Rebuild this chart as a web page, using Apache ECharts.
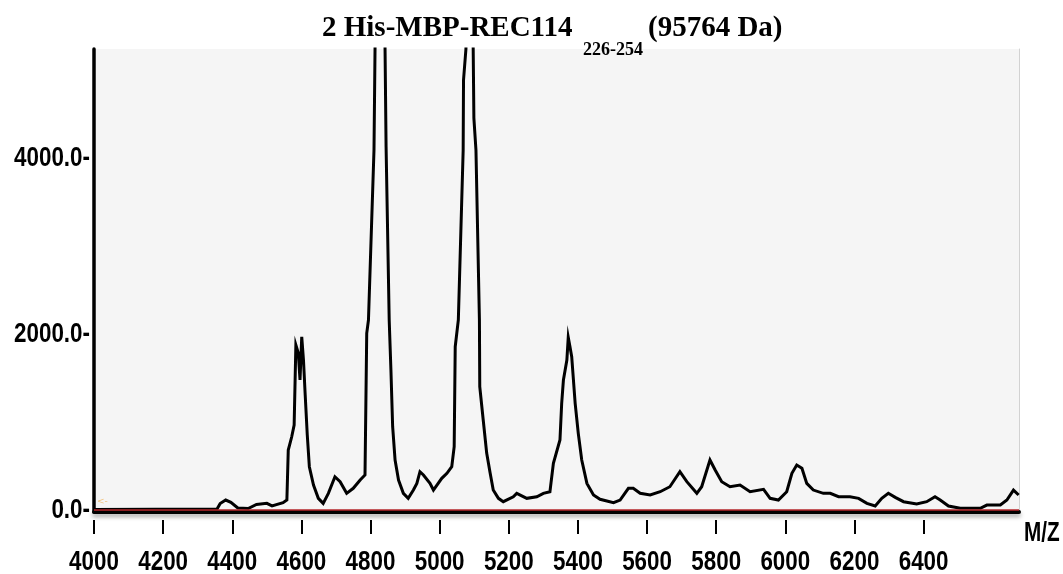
<!DOCTYPE html>
<html>
<head>
<meta charset="utf-8">
<script src="https://cdn.jsdelivr.net/npm/echarts@6/dist/echarts.min.js"></script>
<style>
html,body{margin:0;padding:0;background:#fff;}
#chart{width:1063px;height:574px;}
</style>
</head>
<body>
<div id="chart"></div>
<script>
// m/z positions of the traced spectrum
const mzValues = [
  4000,4356,4365,4381,4396,4416,4446,4470,4500,4515,4547,4558,4562,4572,4579,4584,4591,4596,4601,4606,
  4611,4617,4623,4635,4649,4663,4678,4697,4712,4731,4750,4770,4784,4789,4794,4810,4814,4828,4841,4845,
  4854,4859,4864,4871,4881,4895,4909,4924,4934,4943,4953,4972,4982,5006,5021,5035,5042,5045,5054,5068,
  5069,5076,5079,5088,5095,5097,5099,5105,5115,5116,5126,5136,5146,5155,5170,5184,5213,5223,5252,5281,
  5300,5319,5329,5348,5353,5358,5368,5372,5377,5382,5392,5401,5411,5426,5445,5464,5503,5522,5546,5560,
  5580,5609,5638,5666,5695,5715,5744,5758,5782,5797,5816,5840,5869,5898,5937,5956,5980,6004,6019,6033,
  6038,6048,6062,6081,6110,6130,6154,6187,6212,6236,6260,6279,6298,6318,6342,6380,6409,6433,6448,6472,
  6506,6564,6583,6622,6641,6660,6675
];
// intensities at those positions (the two main peaks run off the top)
const intensityValues = [
  0,6,69,108,82,18,11,58,70,42,77,108,675,826,959,1867,1776,1470,1961,1697,
  1300,846,486,278,127,70,184,372,316,184,241,335,392,2000,2151,4080,5600,6500,5600,4114,
  2151,1584,940,562,335,184,127,221,297,429,392,297,221,354,411,486,713,1848,2151,4080,
  4875,5227,5700,6800,5700,5227,4443,4080,2151,1394,1016,641,414,221,127,89,145,184,127,145,
  184,202,524,789,1205,1470,1697,1954,1848,1734,1205,865,562,297,165,116,77,108,241,241,
  184,165,202,259,429,316,184,259,562,448,316,259,278,202,229,127,108,202,411,505,
  524,468,297,221,184,184,145,145,127,70,40,127,184,138,89,62,89,145,108,40,
  14,14,51,51,108,221,165
];
const xTickValues = [4000,4200,4400,4600,4800,5000,5200,5400,5600,5800,6000,6200,6400];
const yTickValues = [0,2000,4000];
const titleMain = '2 His-MBP-REC114';
const titleSub = '226-254';
const titleTail = '(95764 Da)';
const xAxisName = 'M/Z';

const seriesData = mzValues.map((m, i) => [m, intensityValues[i]]);
const X_MIN = 4000, X_MAX = 6676, Y_MIN = -28, Y_MAX = 5227;
const labelFont = 'bold 28px "Liberation Sans","Arial",sans-serif';
const NARROW = 0.8;
const serif29 = 'bold 29px "Liberation Serif","Times New Roman",serif';

const chart = echarts.init(document.getElementById('chart'), null, {renderer: 'canvas'});
chart.setOption({
  animation: false,
  backgroundColor: '#ffffff',
  grid: {
    left: 94, right: 44, top: 49, bottom: 62,
    containLabel: false, outerBoundsMode: 'none',
    show: true, backgroundColor: '#f5f5f5', borderWidth: 0
  },
  xAxis: [
    {
      type: 'value', min: X_MIN, max: X_MAX, position: 'bottom',
      axisLine: {show: true, onZero: false, lineStyle: {color: '#000', width: 4,
        shadowColor: 'rgba(0,0,0,0.35)', shadowBlur: 4, shadowOffsetY: 3}},
      axisTick: {show: false}, axisLabel: {show: false}, splitLine: {show: false}
    },
    {
      type: 'value', min: X_MIN, max: X_MAX, position: 'bottom', offset: 8,
      axisLine: {show: false, onZero: false},
      axisTick: {show: true, length: 14, customValues: xTickValues, lineStyle: {color: '#000', width: 2}},
      axisLabel: {show: false},
      splitLine: {show: false}
    }
  ],
  yAxis: [
    {
      type: 'value', min: Y_MIN, max: Y_MAX, position: 'left',
      axisLine: {show: true, onZero: false, lineStyle: {color: '#000', width: 3.5}},
      axisTick: {show: false}, axisLabel: {show: false}, splitLine: {show: false}
    },
    {
      type: 'value', min: Y_MIN, max: Y_MAX, position: 'right',
      axisLine: {show: true, onZero: false, lineStyle: {color: '#d2d2d2', width: 1}},
      axisTick: {show: false}, axisLabel: {show: false}, splitLine: {show: false}
    }
  ],
  series: [{
    type: 'line',
    xAxisIndex: 0, yAxisIndex: 0,
    data: seriesData,
    showSymbol: false, symbol: 'none', clip: true,
    lineStyle: {color: '#000', width: 3, join: 'miter'},
    markLine: {
      silent: true, symbol: ['none', 'none'], label: {show: false},
      lineStyle: {color: '#b5262a', width: 1.5, type: 'solid'},
      data: [{yAxis: 0}]
    },
    z: 3
  }]
});

// Tick labels placed through the chart's own scales, drawn in a narrowed bold face
const g = [
  {type: 'text', left: 322, top: 14, style: {text: titleMain, fill: '#000', font: serif29}},
  {type: 'text', left: 583, top: 41, style: {text: titleSub, fill: '#000',
    font: 'bold 18px "Liberation Serif","Times New Roman",serif'}},
  {type: 'text', left: 648, top: 14, style: {text: titleTail, fill: '#000', font: serif29}},
  {type: 'text', left: 97, top: 497, style: {text: '<-', fill: '#f2c27c', font: '9px "DejaVu Sans",sans-serif'}}
];
xTickValues.forEach(v => {
  const px = chart.convertToPixel({xAxisIndex: 0}, v);
  g.push({type: 'text', x: px, y: 562, scaleX: NARROW, z: 10,
    style: {text: String(v), fill: '#000', font: labelFont, align: 'center', verticalAlign: 'middle'}});
});
yTickValues.forEach(v => {
  const py = chart.convertToPixel({yAxisIndex: 0}, v);
  g.push({type: 'text', x: 90, y: py + 1, scaleX: NARROW, z: 10,
    style: {text: v.toFixed(1) + '-', fill: '#000', font: labelFont, align: 'right', verticalAlign: 'middle'}});
});
g.push({type: 'text', x: 1024, y: 533, scaleX: 0.74, z: 10,
  style: {text: xAxisName, fill: '#000', font: labelFont, align: 'left', verticalAlign: 'middle'}});
chart.setOption({graphic: g});
</script>
</body>
</html>
